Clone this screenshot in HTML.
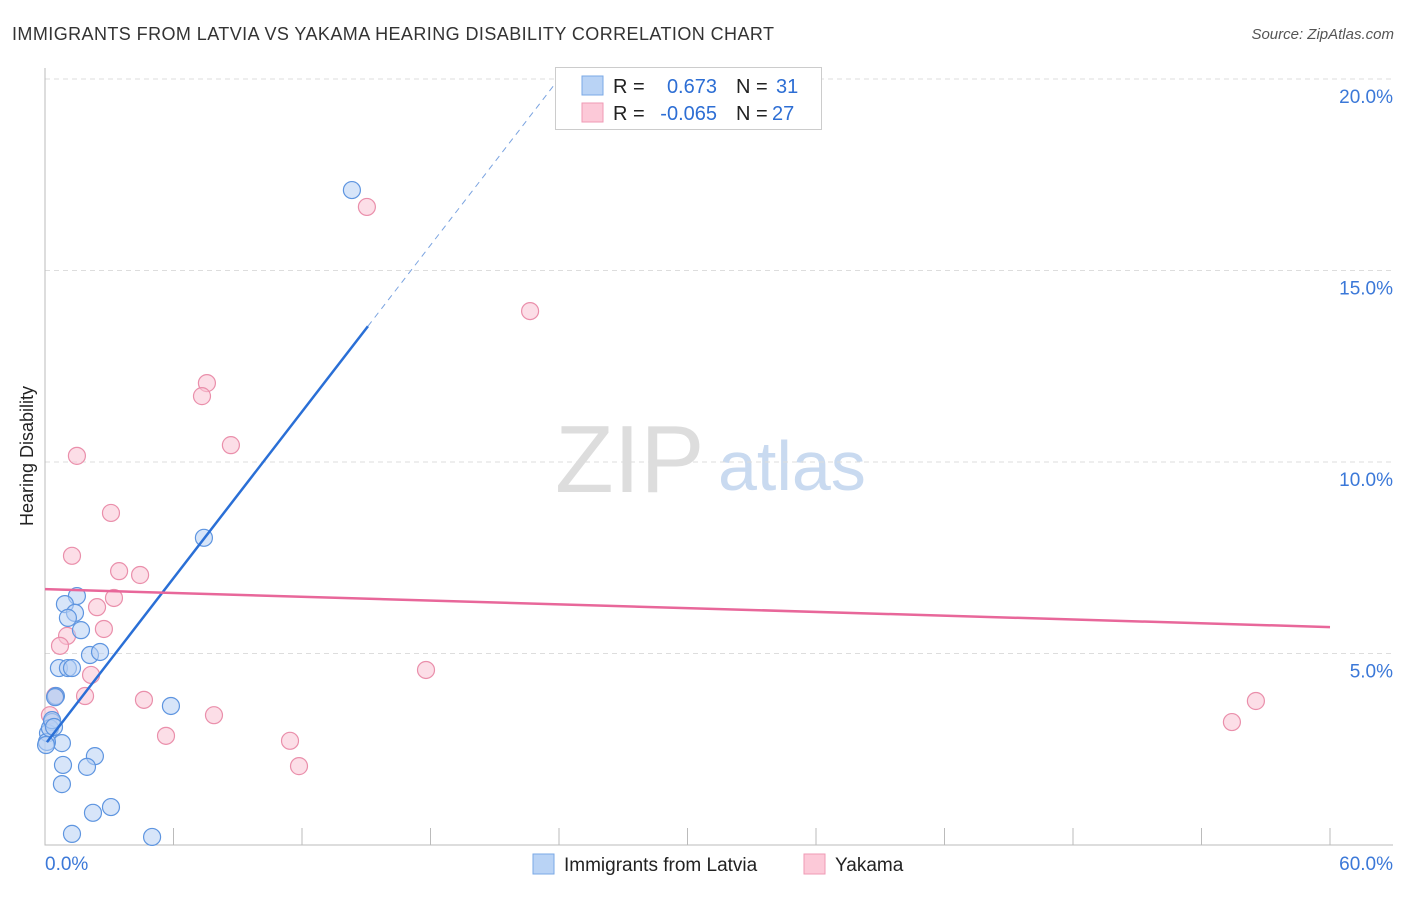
<!DOCTYPE html>
<html><head><meta charset="utf-8"><style>
body{margin:0;background:#fff;font-family:"Liberation Sans",sans-serif;}
svg text{font-family:"Liberation Sans",sans-serif;}
</style></head><body>
<svg id="c" width="1406" height="892">
<text x="12" y="40" font-size="18" fill="#333" textLength="762">IMMIGRANTS FROM LATVIA VS YAKAMA HEARING DISABILITY CORRELATION CHART</text>
<text x="1394" y="39" font-size="15" fill="#555" font-style="italic" text-anchor="end">Source: ZipAtlas.com</text>
<text transform="translate(33,456) rotate(-90)" font-size="18" fill="#222" text-anchor="middle">Hearing Disability</text>
<text x="555" y="492" font-size="96" fill="#ddd" font-family="Liberation Serif">ZIP</text>
<text x="718" y="490" font-size="70" fill="#c9daf0">atlas</text>
<g id="grid"></g><g id="marks"></g>
<g>
<rect x="555.5" y="67.5" width="266" height="62" fill="#fff" stroke="#ccc"/>
<rect x="582" y="76" width="21" height="19" fill="#b9d3f5" stroke="#7aa8e6"/>
<rect x="582" y="103" width="21" height="19" fill="#fcc9d8" stroke="#ef9ab5"/>
<text x="613" y="93" font-size="20" fill="#222">R = </text><text x="717" y="93" font-size="20" fill="#2d6ed4" text-anchor="end">0.673</text>
<text x="736" y="93" font-size="20" fill="#222">N = </text><text x="776" y="93" font-size="20" fill="#2d6ed4">31</text>
<text x="613" y="120" font-size="20" fill="#222">R = </text><text x="717" y="120" font-size="20" fill="#2d6ed4" text-anchor="end">-0.065</text>
<text x="736" y="120" font-size="20" fill="#222">N = </text><text x="772" y="120" font-size="20" fill="#2d6ed4">27</text>
</g>
<g>
<rect x="533" y="854" width="21" height="20" fill="#b9d3f5" stroke="#7aa8e6"/>
<text x="564" y="871" font-size="19" fill="#222">Immigrants from Latvia</text>
<rect x="804" y="854" width="21" height="20" fill="#fcc9d8" stroke="#ef9ab5"/>
<text x="835" y="871" font-size="19" fill="#222">Yakama</text>
</g>
</svg>
<script>
const yTicks=[5,10,15,20];
const yTickLabels=["5.0%","10.0%","15.0%","20.0%"];
const latviaX=[14.33,7.42,1.49,0.93,1.40,1.07,1.68,2.10,2.57,0.65,1.07,1.26,0.51,0.33,0.14,0.79,0.09,5.88,2.33,1.96,0.84,0.79,3.08,2.24,1.26,5.00,0.47,0.23,0.33,0.05,0.42];
const latviaY=[17.10,8.02,6.50,6.29,6.06,5.93,5.61,4.96,5.04,4.62,4.62,4.62,3.89,3.21,2.92,2.66,2.69,3.63,2.32,2.04,2.09,1.59,0.99,0.84,0.29,0.21,3.86,3.05,3.26,2.61,3.08];
const yakamaX=[15.03,22.65,7.56,7.33,8.68,1.49,3.08,1.26,3.46,4.44,3.22,2.43,2.75,1.03,0.70,2.15,1.87,4.62,7.89,5.65,11.44,11.86,17.79,56.54,55.42,0.47,0.23];
const yakamaY=[16.66,13.94,12.06,11.72,10.44,10.16,8.67,7.55,7.15,7.05,6.45,6.21,5.64,5.46,5.20,4.44,3.89,3.79,3.39,2.85,2.72,2.06,4.57,3.76,3.21,3.89,3.39];
const latviaTrend=[2.62,0.7245];
const yakamaTrend=[6.68,-0.0165];
const X=v=>45+v/60*1285, Y=v=>845-v*38.3;
const NS="http://www.w3.org/2000/svg";
function mk(t,a,p){const e=document.createElementNS(NS,t);for(const k in a)e.setAttribute(k,a[k]);p.appendChild(e);return e;}
const g=document.getElementById('grid'), m=document.getElementById('marks');
yTicks.forEach((t,i)=>{
 const l=mk('line',{x1:45,x2:1393,y1:Y(t),y2:Y(t),stroke:'#ddd','stroke-dasharray':'5,4'},g);
 
 
 const tx=mk('text',{x:1393,y:Y(t)+24,'font-size':19,fill:'#3b78d8','text-anchor':'end'},g);
 tx.textContent=yTickLabels[i];
 
 
});
const ax=mk('path',{d:'M45,68V845H1393',fill:'none',stroke:'#bbb'},g);


for(let i=1;i<=10;i++){const t=mk('line',{x1:X(i*6),x2:X(i*6),y1:828,y2:845,stroke:'#bbb'},g);
 
 }
[["0.0%",45,'start'],["60.0%",1393,'end']].forEach(a=>{const t=mk('text',{x:a[1],y:870,'font-size':19,fill:'#3b78d8','text-anchor':a[2]},g);t.textContent=a[0];
 
 });
function dots(xs,ys,f,s,n){xs.forEach((x,i)=>{const c=mk('circle',{cx:X(x),cy:Y(ys[i]),r:8.5,fill:f,'fill-opacity':0.55,stroke:s,'stroke-width':1.2},m);
 
 });}
dots(yakamaX,yakamaY,'#fac3d3','#ea8fab','yakama-point');
dots(latviaX,latviaY,'#b6d0f4','#5e95e0','latvia-point');
const lb=(x)=>latviaTrend[0]+latviaTrend[1]*x;
let l1=mk('line',{x1:X(0.09),y1:Y(lb(0.09)),x2:X(15.08),y2:Y(lb(15.08)),stroke:'#2a6fd6','stroke-width':2.5},m);


let l2=mk('line',{x1:X(15.08),y1:Y(lb(15.08)),x2:X(23.82),y2:Y(lb(23.82)),stroke:'#7aa3e0','stroke-width':1,'stroke-dasharray':'6,5'},m);


const yb=(x)=>yakamaTrend[0]+yakamaTrend[1]*x;
let l3=mk('line',{x1:X(0),y1:Y(yb(0)),x2:X(60),y2:Y(yb(60)),stroke:'#e8679a','stroke-width':2.5},m);


</script>
</body></html>
